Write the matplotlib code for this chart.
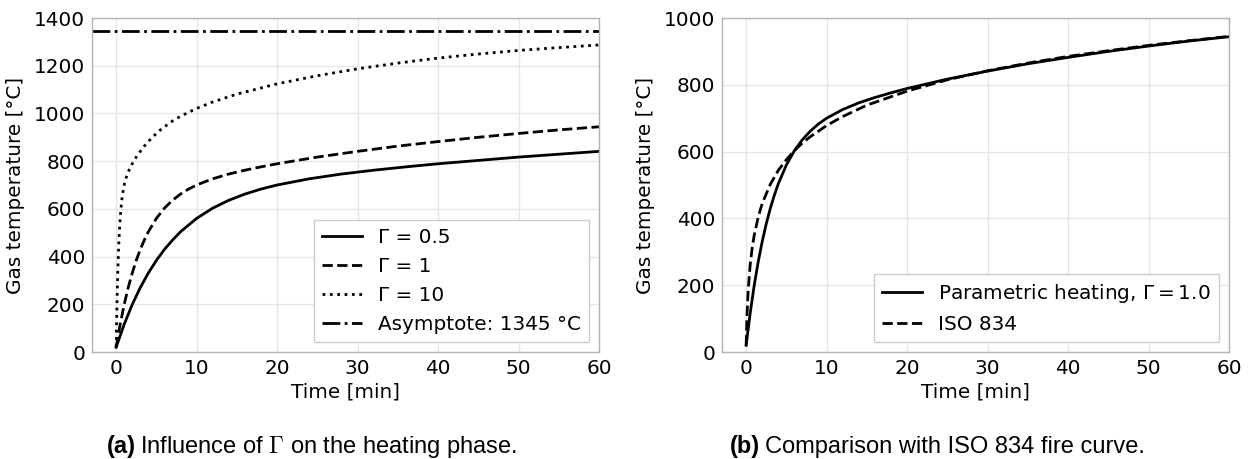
import matplotlib
matplotlib.use('Agg')
import matplotlib.pyplot as plt

# Gas temperature [°C] vs time [min]
t_g05 = [0, 1, 2, 3, 4, 5, 6, 7, 8, 10, 12, 14, 16, 18, 20, 24, 28, 32, 36, 40, 45, 50, 55, 60]
T_g05 = [20, 116, 199, 270, 331, 384, 430, 469, 504, 560, 603, 636, 662, 683, 700, 726, 746, 762, 776, 789, 803, 817, 829, 841]

t_g1 = [0, 0.5, 1, 1.5, 2, 2.5, 3, 3.5, 4, 5, 6, 7, 8, 9, 10, 12, 14, 16, 18, 20, 22.5, 25, 27.5, 30, 35, 40, 45, 50, 55, 60]
T_g1 = [20, 116, 199, 270, 331, 384, 430, 469, 504, 560, 603, 636, 662, 683, 700, 726, 746, 762, 776, 789, 803, 817, 829, 841,
        863, 882, 900, 916, 931, 944]

t_g10 = [0, 0.05, 0.1, 0.15, 0.2, 0.3, 0.4, 0.5, 0.6, 0.7, 0.8, 0.9, 1.0, 1.2, 1.4, 1.6, 1.8, 2, 2.5, 3, 3.5, 4,
         4.5, 5, 5.5, 6, 7, 8, 10, 12, 15, 20, 25, 30, 35, 40, 45, 50, 55, 60]
T_g10 = [20, 116, 199, 270, 331, 430, 504, 560, 603, 636, 662, 683, 700, 726, 746, 762, 776, 789, 817, 841, 863, 882,
         900, 916, 931, 944, 968, 988, 1021, 1048, 1081, 1124, 1158, 1187, 1211, 1232, 1249, 1264, 1276, 1287]

asymptote = 1345

t_iso = [0, 0.1, 0.25, 0.5, 0.75, 1, 1.5, 2, 3, 4, 5, 6, 7, 8, 10, 12, 15, 20, 25, 30, 35, 40, 45, 50, 55, 60]
T_iso = [20, 108, 185, 261, 312, 349, 404, 445, 502, 544, 576, 603, 626, 645, 678, 705, 739, 781, 815, 842, 865, 885, 902,
         918, 932, 945]

FS = 14.4
W, H = 1249, 459


def style_axes(ax, ymax):
    ax.set_xlim(-3, 60)
    ax.set_ylim(0, ymax)
    ax.set_yticks(range(0, ymax + 1, 200))
    ax.set_xticks(range(0, 61, 10))
    ax.grid(True, color='0.9', linewidth=1)
    ax.set_axisbelow(True)
    for s in ax.spines.values():
        s.set_color('0.7')
        s.set_linewidth(1)
    ax.tick_params(length=0, labelsize=FS, pad=5)
    ax.set_xlabel('Time [min]', fontsize=FS, labelpad=3)
    ax.set_ylabel('Gas temperature [°C]', fontsize=FS, labelpad=6)


def caption(fig, xc, y, tag, text):
    r = fig.canvas.get_renderer()
    kw = dict(fontsize=17, family='Liberation Sans', va='baseline')
    t1 = fig.text(0, y, tag, weight='bold', **kw)
    t2 = fig.text(0, y, text, math_fontfamily='cm', **kw)
    w1 = t1.get_window_extent(r).width
    w2 = t2.get_window_extent(r).width
    gap = 5
    x0 = xc * W - (w1 + gap + w2) / 2
    t1.set_x(x0 / W)
    t2.set_x((x0 + w1 + gap) / W)


def main():
    fig = plt.figure(figsize=(W / 100, H / 100), dpi=100)
    ax1 = fig.add_axes([92 / W, 107 / H, 507 / W, 334 / H])
    ax2 = fig.add_axes([722 / W, 107 / H, 507 / W, 334 / H])

    lw = 2
    ax1.plot(t_g05, T_g05, color='black', lw=lw, linestyle='-', label='Γ = 0.5')
    ax1.plot(t_g1, T_g1, color='black', lw=lw, linestyle='--', label='Γ = 1')
    ax1.plot(t_g10, T_g10, color='black', lw=lw, linestyle=':', label='Γ = 10')
    ax1.axhline(asymptote, color='black', lw=lw, linestyle='-.', label='Asymptote: 1345 °C')
    style_axes(ax1, 1400)
    ax1.legend(loc='lower right', fontsize=FS, fancybox=False, framealpha=1,
               edgecolor='0.8', labelspacing=0.5)

    ax2.plot(t_g1, T_g1, color='black', lw=lw, linestyle='-', label=r'Parametric heating, $\Gamma = 1.0$')
    ax2.plot(t_iso, T_iso, color='black', lw=lw, linestyle='--', label='ISO 834')
    style_axes(ax2, 1000)
    ax2.legend(loc='lower right', fontsize=FS, fancybox=False, framealpha=1,
               edgecolor='0.8', labelspacing=0.5)

    caption(fig, 312 / W, 6 / H, '(a)', r'Influence of $\Gamma$ on the heating phase.')
    caption(fig, 937 / W, 6 / H, '(b)', 'Comparison with ISO 834 fire curve.')

    fig.savefig('out.png', dpi=100)


if __name__ == "__main__":
    main()
